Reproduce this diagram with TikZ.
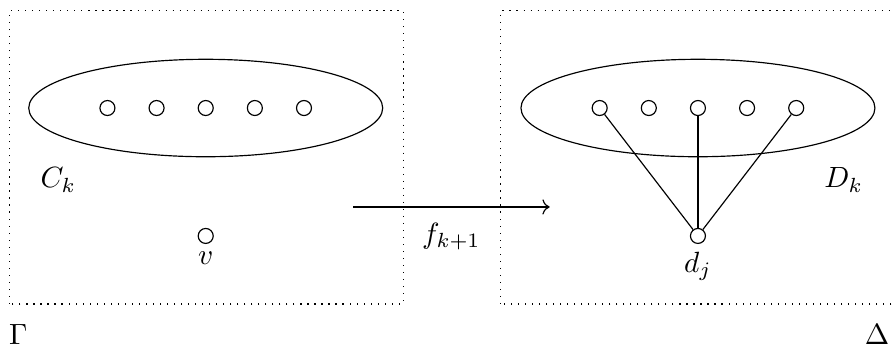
\documentclass[tikz,border=0pt]{standalone}
\usepackage{tikz}
\usetikzlibrary{arrows.meta}

\begin{document}
\begin{tikzpicture}[
every node/.style={font=\normalsize},
vertex/.style={circle,draw,inner sep=0pt,minimum size=0.18cm},
frame/.style={dotted}
]
\useasboundingbox (0,0) rectangle (10.71,4.19);

% Frames
\draw[frame] (0.11,0.54) rectangle (4.84,4.06);
\draw[frame] (6.01,0.54) rectangle (10.74,4.06);

% Left side
\draw (2.47,2.893) ellipse (2.125 and 0.585);
\foreach \i in {1,...,5}
  \node[vertex] (c\i) at ({2.47+(\i-3)*0.59},2.893) {};
\node[vertex,label={[inner sep=2.5pt]below:$v$}] (v) at (2.47,1.357) {};
\node (ck) at (0.70,2.03) {$C_k$};
\node (gamma) at (0.22,0.17) {$\Gamma$};

% Right side
\draw (8.38,2.893) ellipse (2.125 and 0.585);
\foreach \i in {1,...,5}
  \node[vertex] (d\i) at ({8.38+(\i-3)*0.59},2.893) {};
\node[vertex,label={[inner sep=2.5pt]below:$d_j$}] (dj) at (8.38,1.357) {};
\node (dk) at (10.13,2.03) {$D_k$};
\node (delta) at (10.53,0.17) {$\Delta$};

\foreach \i in {1,3,5}
  \draw (dj) -- (d\i);

% Map
\coordinate (from) at (4.24,1.705);
\coordinate (to) at (6.60,1.705);
\draw[->] (from) -- node[below=2pt]{$f_{k+1}$} (to);

\end{tikzpicture}
\end{document}
